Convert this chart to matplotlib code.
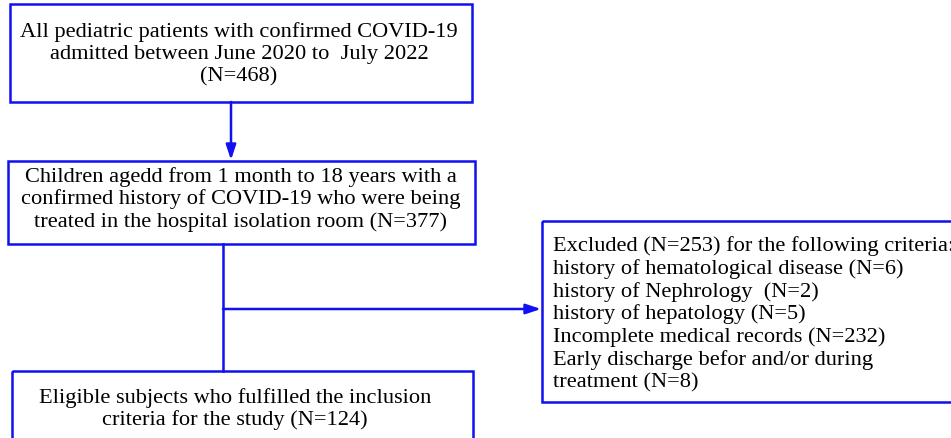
import matplotlib
matplotlib.use("Agg")
import matplotlib.pyplot as plt
from matplotlib.patches import Rectangle

# ---- content ----
box1_lines = ["All pediatric patients with confirmed COVID-19",
              "admitted between June 2020 to  July 2022",
              "(N=468)"]
box2_lines = ["Children agedd from 1 month to 18 years with a",
              "confirmed history of COVID-19 who were being",
              "treated in the hospital isolation room (N=377)"]
box3_lines = ["Excluded (N=253) for the following criteria:",
              "history of hematological disease (N=6)",
              "history of Nephrology  (N=2)",
              "history of hepatology (N=5)",
              "Incomplete medical records (N=232)",
              "Early discharge befor and/or during",
              "treatment (N=8)"]
box4_lines = ["Eligible subjects who fulfilled the inclusion",
              "criteria for the study (N=124)"]

BLUE = "#1010f0"
FONT = "Liberation Serif"
FS = 16.1

fig = plt.figure(figsize=(9.51, 4.39), dpi=100)
ax = fig.add_axes([0, 0, 1, 1])
ax.set_xlim(0, 951)
ax.set_ylim(439, 0)
ax.axis("off")

def box(x0, y0, x1, y1):
    ax.add_patch(Rectangle((x0, y0), x1 - x0, y1 - y0, fill=False,
                           edgecolor=BLUE, linewidth=1.8, clip_on=True))

box(10, 5, 472, 103)
box(8, 162, 475, 245)
box(542, 222, 960, 403)
box(12, 372, 473, 450)

def centered(lines, cx, ys):
    for t, y in zip(lines, ys):
        ax.text(cx, y, t, ha="center", va="center", fontsize=FS,
                family=FONT, color="black")

centered(box1_lines, 239, [32, 55, 77])
centered(box2_lines, 241, [177, 199, 222])
centered(box4_lines, 235, [398, 420])
for i, t in enumerate(box3_lines):
    ax.text(553, 246 + i * 22.8, t, ha="left", va="center", fontsize=FS,
            family=FONT, color="black")

# arrows and connectors
arrowprops = dict(arrowstyle="-|>,head_length=0.9,head_width=0.3",
                  color=BLUE, lw=1.8, shrinkA=0, shrinkB=0)
ax.annotate("", xy=(231, 161), xytext=(231, 103), arrowprops=arrowprops)
ax.plot([223, 223], [245, 372], color=BLUE, lw=1.8)
ax.annotate("", xy=(541, 310), xytext=(223, 310), arrowprops=arrowprops)

fig.savefig("out.png", dpi=100)
